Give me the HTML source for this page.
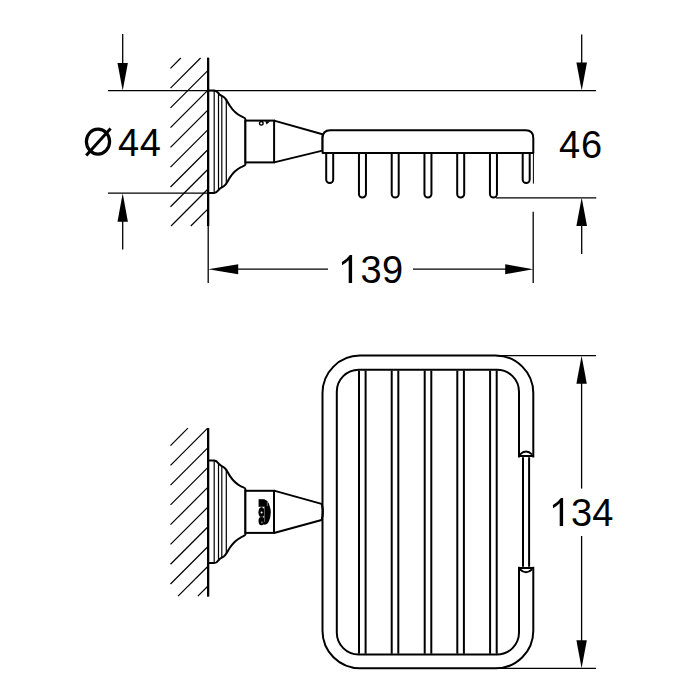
<!DOCTYPE html>
<html><head><meta charset="utf-8"><style>
html,body{margin:0;padding:0;background:#fff;width:700px;height:700px;overflow:hidden}
svg{display:block}
</style></head><body><svg width="700" height="700" viewBox="0 0 700 700" shape-rendering="geometricPrecision"><g stroke="#000" stroke-width="1.2"><line x1="170.50" y1="68.30" x2="180.80" y2="58.00"/><line x1="170.50" y1="88.08" x2="200.58" y2="58.00"/><line x1="170.50" y1="107.86" x2="208.00" y2="70.36"/><line x1="170.50" y1="127.64" x2="208.00" y2="90.14"/><line x1="170.50" y1="147.42" x2="208.00" y2="109.92"/><line x1="170.50" y1="167.20" x2="208.00" y2="129.70"/><line x1="170.50" y1="186.98" x2="208.00" y2="149.48"/><line x1="170.50" y1="206.76" x2="208.00" y2="169.26"/><line x1="171.04" y1="226.00" x2="208.00" y2="189.04"/><line x1="190.82" y1="226.00" x2="208.00" y2="208.82"/></g><line x1="108" y1="90.6" x2="596" y2="90.6" stroke="#000" stroke-width="1.3"/><line x1="108" y1="193.2" x2="210" y2="193.2" stroke="#000" stroke-width="1.3"/><line x1="122.7" y1="34" x2="122.7" y2="64" stroke="#000" stroke-width="1.3"/><path d="M117.50 62.90 L127.90 62.90 L122.70 90.40 Z" fill="#000"/><line x1="122.7" y1="220" x2="122.7" y2="249.6" stroke="#000" stroke-width="1.3"/><path d="M117.50 221.80 L127.90 221.80 L122.70 193.30 Z" fill="#000"/><line x1="208.2" y1="57.8" x2="208.2" y2="226" stroke="#000" stroke-width="2.2"/><line x1="208.2" y1="226" x2="208.2" y2="283" stroke="#000" stroke-width="1.3"/><path d="M208.2 90.4 L214.3 90.4 C216.5 90.4 217.5 92 219.3 94.2 C220.8 95.8 223.2 96.2 225 98.2 C227 100.3 228 103 230 106 C233 110.5 237 114.2 241 116.2 C243 117.2 245.4 118 245.4 119 L245.4 164.39999999999998 C245.4 165.39999999999998 243 166.2 241 167.2 C237 169.2 233 172.89999999999998 230 177.39999999999998 C228 180.39999999999998 227 183.09999999999997 225 185.2 C223.2 187.2 220.8 187.59999999999997 219.3 189.2 C217.5 191.39999999999998 216.5 192.99999999999997 214.3 192.99999999999997 L208.2 192.99999999999997" fill="none" stroke="#000" stroke-width="2" stroke-linejoin="round"/><g stroke="#000" stroke-width="1.2"><line x1="214.2" y1="90.8" x2="214.2" y2="192.59999999999997"/><line x1="218.5" y1="93.4" x2="218.5" y2="189.99999999999997"/><line x1="221.8" y1="95.9" x2="221.8" y2="187.49999999999997"/><line x1="226.3" y1="99.8" x2="226.3" y2="183.59999999999997"/></g><line x1="208.0" y1="57.8" x2="208.0" y2="226" stroke="#000" stroke-width="2"/><rect x="245.4" y="120.6" width="28.7" height="41.8" fill="#fff" stroke="#000" stroke-width="2"/><circle cx="261.3" cy="123.3" r="1.8" fill="none" stroke="#000" stroke-width="1.4"/><path d="M265.3 121.2 L270.2 121.2 L266.6 124.6 Z" fill="#000"/><path d="M274.1 120.6 L322.5 134.3 L322.5 150.6 L274.1 162.4" fill="none" stroke="#000" stroke-width="2" stroke-linejoin="round"/><path d="M326.20 153 L326.20 179.50 A3.5 3.5 0 0 0 333.20 179.50 L333.20 153" fill="none" stroke="#000" stroke-width="2"/><path d="M358.95 153 L358.95 194.00 A3.5 3.5 0 0 0 365.95 194.00 L365.95 153" fill="none" stroke="#000" stroke-width="2"/><path d="M391.70 153 L391.70 194.00 A3.5 3.5 0 0 0 398.70 194.00 L398.70 153" fill="none" stroke="#000" stroke-width="2"/><path d="M424.45 153 L424.45 194.00 A3.5 3.5 0 0 0 431.45 194.00 L431.45 153" fill="none" stroke="#000" stroke-width="2"/><path d="M457.20 153 L457.20 194.00 A3.5 3.5 0 0 0 464.20 194.00 L464.20 153" fill="none" stroke="#000" stroke-width="2"/><path d="M489.95 153 L489.95 194.00 A3.5 3.5 0 0 0 496.95 194.00 L496.95 153" fill="none" stroke="#000" stroke-width="2"/><path d="M522.70 153 L522.70 179.50 A3.5 3.5 0 0 0 529.70 179.50 L529.70 153" fill="none" stroke="#000" stroke-width="2"/><path d="M322.6 153 L322.6 138 Q322.6 130.3 330.3 130.3 L525.7 130.3 Q533.3 130.3 533.3 137.9 L533.3 153 Z" fill="#fff" stroke="#000" stroke-width="2" stroke-linejoin="round"/><line x1="533.4" y1="153" x2="533.4" y2="183.6" stroke="#000" stroke-width="1"/><line x1="496" y1="197.8" x2="596.3" y2="197.8" stroke="#000" stroke-width="1.3"/><line x1="581.7" y1="34.6" x2="581.7" y2="64" stroke="#000" stroke-width="1.3"/><path d="M576.40 62.40 L587.00 62.40 L581.70 90.40 Z" fill="#000"/><line x1="581.7" y1="224" x2="581.7" y2="254" stroke="#000" stroke-width="1.3"/><path d="M576.40 226.00 L587.00 226.00 L581.70 197.70 Z" fill="#000"/><line x1="236" y1="269.2" x2="328" y2="269.2" stroke="#000" stroke-width="1.3"/><path d="M238.20 264.20 L238.20 274.20 L208.20 269.20 Z" fill="#000"/><line x1="413" y1="269.2" x2="507" y2="269.2" stroke="#000" stroke-width="1.3"/><path d="M505.20 264.20 L505.20 274.20 L533.20 269.20 Z" fill="#000"/><line x1="533.2" y1="211.7" x2="533.2" y2="283" stroke="#000" stroke-width="1.3"/><g stroke="#000" stroke-width="1.2"><line x1="170.50" y1="445.60" x2="187.90" y2="428.20"/><line x1="170.50" y1="465.37" x2="207.67" y2="428.20"/><line x1="170.50" y1="485.14" x2="208.00" y2="447.64"/><line x1="170.50" y1="504.91" x2="208.00" y2="467.41"/><line x1="170.50" y1="524.68" x2="208.00" y2="487.18"/><line x1="170.50" y1="544.45" x2="208.00" y2="506.95"/><line x1="170.50" y1="564.22" x2="208.00" y2="526.72"/><line x1="170.50" y1="583.99" x2="208.00" y2="546.49"/><line x1="178.06" y1="596.20" x2="208.00" y2="566.26"/><line x1="197.83" y1="596.20" x2="208.00" y2="586.03"/></g><line x1="208.2" y1="428" x2="208.2" y2="596.4" stroke="#000" stroke-width="2.2"/><path d="M208.2 460.5 L214.3 460.5 C216.5 460.5 217.5 462.1 219.3 464.3 C220.8 465.90000000000003 223.2 466.3 225 468.3 C227 470.40000000000003 228 473.1 230 476.1 C233 480.6 237 484.3 241 486.3 C243 487.3 245.4 488.1 245.4 489.1 L245.4 534.5 C245.4 535.5 243 536.3 241 537.3 C237 539.3 233 543.0 230 547.5 C228 550.5 227 553.2 225 555.3 C223.2 557.3 220.8 557.7 219.3 559.3 C217.5 561.5 216.5 563.1 214.3 563.1 L208.2 563.1" fill="none" stroke="#000" stroke-width="2" stroke-linejoin="round"/><g stroke="#000" stroke-width="1.2"><line x1="214.2" y1="460.90000000000003" x2="214.2" y2="562.7"/><line x1="218.5" y1="463.5" x2="218.5" y2="560.1"/><line x1="221.8" y1="466.0" x2="221.8" y2="557.6"/><line x1="226.3" y1="469.90000000000003" x2="226.3" y2="553.7"/></g><line x1="208.0" y1="428" x2="208.0" y2="596.4" stroke="#000" stroke-width="2"/><rect x="245.4" y="490.8" width="28.6" height="42.1" fill="#fff" stroke="#000" stroke-width="2"/><path d="M274 490.6 L321.6 503.9 Q324.2 511.9 321.6 520 L274 533" fill="none" stroke="#000" stroke-width="2" stroke-linejoin="round"/><g fill="#000"><path d="M258.6 499.2 L264.6 499.2 L264.6 507 L258.6 507 Z"/><ellipse cx="261.5" cy="512.3" rx="3.1" ry="5.2"/><ellipse cx="261.6" cy="521" rx="3.1" ry="4.2"/><path d="M264 499.6 Q267.5 500 269 504 Q270.9 509 270.8 512.5 Q270.6 518 268.8 521.5 Q267.4 524.8 264 524.8 Z"/></g><g fill="#fff"><circle cx="261.6" cy="512.5" r="1.0"/><circle cx="261.9" cy="522.4" r="0.8" opacity="0.6"/><path d="M264.2 506.5 L265 506.5 L265 522 L264.2 522 Z" opacity="0.45"/><path d="M259 506.4 L264 506.4 L264 507.2 L259 507.2 Z" opacity="0.35"/><path d="M259 516.6 L264 516.6 L264 517.3 L259 517.3 Z" opacity="0.35"/><path d="M266.8 502 L268 502 L268 506 L266.8 506 Z" opacity="0.35"/></g><rect x="322.5" y="355.6" width="210.8" height="312.7" rx="37.5" ry="37.5" fill="none" stroke="#000" stroke-width="2"/><rect x="336.8" y="369.7" width="182.2" height="284.9" rx="22" ry="22" fill="none" stroke="#000" stroke-width="2"/><rect x="515" y="457.5" width="22" height="109.3" fill="#fff"/><path d="M519 456 L533.2 456 M519 567.9 L533.2 567.9" stroke="#000" stroke-width="2"/><path d="M519.8 454.6 Q526 448.6 532.2 454.6 M519.8 569.3 Q526 575.3 532.2 569.3" fill="none" stroke="#000" stroke-width="1.9"/><path d="M523 457.3 L523 566.8 M529.1 457.3 L529.1 566.8" stroke="#000" stroke-width="2"/><path d="M359.00 370.5 L359.00 653.8 M365.60 370.5 L365.60 653.8" stroke="#000" stroke-width="2"/><path d="M391.70 370.5 L391.70 653.8 M398.30 370.5 L398.30 653.8" stroke="#000" stroke-width="2"/><path d="M424.70 370.5 L424.70 653.8 M431.30 370.5 L431.30 653.8" stroke="#000" stroke-width="2"/><path d="M457.30 370.5 L457.30 653.8 M463.90 370.5 L463.90 653.8" stroke="#000" stroke-width="2"/><path d="M490.10 370.5 L490.10 653.8 M496.70 370.5 L496.70 653.8" stroke="#000" stroke-width="2"/><line x1="496" y1="355.6" x2="596" y2="355.6" stroke="#000" stroke-width="1.3"/><line x1="496" y1="668.3" x2="596" y2="668.3" stroke="#000" stroke-width="1.3"/><line x1="581.6" y1="381" x2="581.6" y2="488.6" stroke="#000" stroke-width="1.3"/><path d="M576.40 383.70 L586.80 383.70 L581.60 355.70 Z" fill="#000"/><line x1="581.6" y1="536" x2="581.6" y2="642" stroke="#000" stroke-width="1.3"/><path d="M576.40 640.20 L586.80 640.20 L581.60 668.20 Z" fill="#000"/><g font-family="Liberation Sans, sans-serif" font-size="38" fill="#000"><text transform="translate(117.95 155.60) scale(1 1.042)" x="0" y="0">4</text><text transform="translate(139.75 155.60) scale(1 1.042)" x="0" y="0">4</text><text transform="translate(559.05 157.90) scale(1 1.042)" x="0" y="0">4</text><text transform="translate(581.00 158.10) scale(1 1.042)" x="0" y="0">6</text><text transform="translate(360.40 282.60) scale(1 1.042)" x="0" y="0">3</text><text transform="translate(382.00 282.60) scale(1 1.042)" x="0" y="0">9</text><text transform="translate(570.90 525.70) scale(1 1.042)" x="0" y="0">3</text><text transform="translate(592.25 525.60) scale(1 1.042)" x="0" y="0">4</text></g><path transform="translate(0 0)" d="M563.1 497.9 L563.1 525.9 L559.7 525.9 L559.7 503.3 Q556.8 506.2 553.0 508.2 L552.9 504.9 Q558.2 501.7 560.9 497.9 Z" fill="#000"/><path transform="translate(-211 -243)" d="M563.1 497.9 L563.1 525.9 L559.7 525.9 L559.7 503.3 Q556.8 506.2 553.0 508.2 L552.9 504.9 Q558.2 501.7 560.9 497.9 Z" fill="#000"/><ellipse cx="98" cy="141.6" rx="11.6" ry="12.5" fill="none" stroke="#000" stroke-width="3.2"/><line x1="86.2" y1="155.6" x2="110.6" y2="128.4" stroke="#000" stroke-width="3"/></svg></body></html>
